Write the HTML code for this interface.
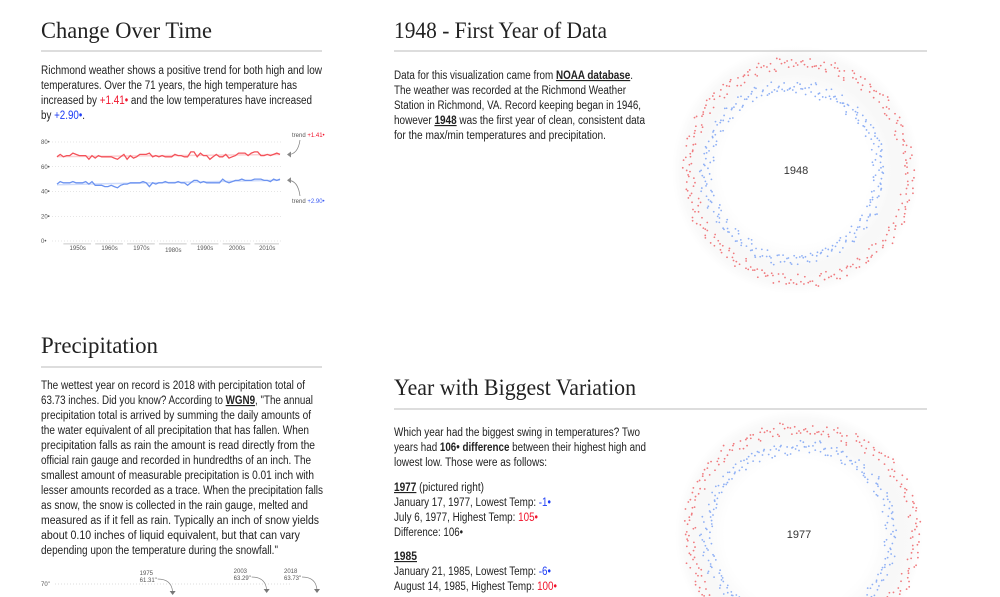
<!DOCTYPE html>
<html><head><meta charset="utf-8"><style>
html,body{margin:0;padding:0;background:#fff;overflow:hidden;width:1000px;height:597px;}
svg{display:block;font-family:"Liberation Sans",sans-serif;}
.h{font-family:"Liberation Serif",serif;font-size:23px;fill:#222;}
.p{font-size:11.5px;fill:#222;}
.b{font-weight:bold;text-decoration:underline;}
.r{fill:#f0142c;} .bl{fill:#1d3cf5;}
.ax{font-size:6px;fill:#555;}
</style></head><body>
<svg id="page" width="1000" height="597" viewBox="0 0 1000 597">
<g id="radial1948"></g>
<g id="radial1977"></g>
<!-- headings -->
<text class="h" x="41" y="38" textLength="171" lengthAdjust="spacingAndGlyphs">Change Over Time</text>
<line x1="41" y1="51" x2="322" y2="51" stroke="#bbb"/>
<text class="h" x="394" y="38" textLength="213" lengthAdjust="spacingAndGlyphs">1948 - First Year of Data</text>
<line x1="394" y1="51" x2="927" y2="51" stroke="#bbb"/>
<text class="h" x="41" y="353" textLength="117" lengthAdjust="spacingAndGlyphs">Precipitation</text>
<line x1="41" y1="367" x2="322" y2="367" stroke="#bbb"/>
<text class="h" x="394" y="395" textLength="242" lengthAdjust="spacingAndGlyphs">Year with Biggest Variation</text>
<line x1="394" y1="409" x2="927" y2="409" stroke="#bbb"/>

<g>
<text class="p" x="41" y="74" textLength="281" lengthAdjust="spacingAndGlyphs">Richmond weather shows a positive trend for both high and low</text>
<text class="p" x="41" y="89" textLength="256" lengthAdjust="spacingAndGlyphs">temperatures. Over the 71 years, the high temperature has</text>
<text class="p" x="41" y="104" textLength="271" lengthAdjust="spacingAndGlyphs">increased by <tspan class="r">+1.41•</tspan> and the low temperatures have increased</text>
<text class="p" x="41" y="119" textLength="44" lengthAdjust="spacingAndGlyphs">by <tspan class="bl">+2.90•</tspan>.</text>
</g>

<g>
<text class="p" x="394" y="79" textLength="239" lengthAdjust="spacingAndGlyphs">Data for this visualization came from <tspan class="b">NOAA database</tspan>.</text>
<text class="p" x="394" y="94" textLength="232" lengthAdjust="spacingAndGlyphs">The weather was recorded at the Richmond Weather</text>
<text class="p" x="394" y="109" textLength="247" lengthAdjust="spacingAndGlyphs">Station in Richmond, VA. Record keeping began in 1946,</text>
<text class="p" x="394" y="124" textLength="251" lengthAdjust="spacingAndGlyphs">however <tspan class="b">1948</tspan> was the first year of clean, consistent data</text>
<text class="p" x="394" y="139" textLength="212" lengthAdjust="spacingAndGlyphs">for the max/min temperatures and precipitation.</text>
</g>

<g>
<text class="p" x="41" y="389" textLength="264" lengthAdjust="spacingAndGlyphs">The wettest year on record is 2018 with percipitation total of</text>
<text class="p" x="41" y="404" textLength="272" lengthAdjust="spacingAndGlyphs">63.73 inches. Did you know? According to <tspan class="b">WGN9</tspan>, "The annual</text>
<text class="p" x="41" y="419" textLength="270" lengthAdjust="spacingAndGlyphs">precipitation total is arrived by summing the daily amounts of</text>
<text class="p" x="41" y="434" textLength="268" lengthAdjust="spacingAndGlyphs">the water equivalent of all precipitation that has fallen. When</text>
<text class="p" x="41" y="449" textLength="274" lengthAdjust="spacingAndGlyphs">precipitation falls as rain the amount is read directly from the</text>
<text class="p" x="41" y="464" textLength="270" lengthAdjust="spacingAndGlyphs">official rain gauge and recorded in hundredths of an inch. The</text>
<text class="p" x="41" y="479" textLength="273" lengthAdjust="spacingAndGlyphs">smallest amount of measurable precipitation is 0.01 inch with</text>
<text class="p" x="41" y="494" textLength="282" lengthAdjust="spacingAndGlyphs">lesser amounts recorded as a trace. When the precipitation falls</text>
<text class="p" x="41" y="509" textLength="267" lengthAdjust="spacingAndGlyphs">as snow, the snow is collected in the rain gauge, melted and</text>
<text class="p" x="41" y="524" textLength="278" lengthAdjust="spacingAndGlyphs">measured as if it fell as rain. Typically an inch of snow yields</text>
<text class="p" x="41" y="539" textLength="259" lengthAdjust="spacingAndGlyphs">about 0.10 inches of liquid equivalent, but that can vary</text>
<text class="p" x="41" y="554" textLength="237" lengthAdjust="spacingAndGlyphs">depending upon the temperature during the snowfall."</text>
</g>

<g>
<text class="p" x="394" y="436" textLength="246" lengthAdjust="spacingAndGlyphs">Which year had the biggest swing in temperatures? Two</text>
<text class="p" x="394" y="451" textLength="252" lengthAdjust="spacingAndGlyphs">years had <tspan font-weight="bold">106• difference</tspan> between their highest high and</text>
<text class="p" x="394" y="466" textLength="153" lengthAdjust="spacingAndGlyphs">lowest low. Those were as follows:</text>
<text class="p" x="394" y="491" textLength="90" lengthAdjust="spacingAndGlyphs"><tspan class="b">1977</tspan> (pictured right)</text>
<text class="p" x="394" y="506" textLength="157" lengthAdjust="spacingAndGlyphs">January 17, 1977, Lowest Temp: <tspan class="bl">-1•</tspan></text>
<text class="p" x="394" y="521" textLength="144" lengthAdjust="spacingAndGlyphs">July 6, 1977, Highest Temp: <tspan class="r">105•</tspan></text>
<text class="p" x="394" y="536" textLength="69" lengthAdjust="spacingAndGlyphs">Difference: 106•</text>
<text class="p b" x="394" y="560" textLength="23" lengthAdjust="spacingAndGlyphs">1985</text>
<text class="p" x="394" y="575" textLength="157" lengthAdjust="spacingAndGlyphs">January 21, 1985, Lowest Temp: <tspan class="bl">-6•</tspan></text>
<text class="p" x="394" y="590" textLength="163" lengthAdjust="spacingAndGlyphs">August 14, 1985, Highest Temp: <tspan class="r">100•</tspan></text>
</g>

<g id="lineChart"></g>
<g id="precipChart"></g>
</svg>
<script>
const NS="http://www.w3.org/2000/svg";
const firstYear=1948;
const yTicks=[0,20,40,60,80];
const decades=["1950s","1960s","1970s","1980s","1990s","2000s","2010s"];
const highs=[68,70,68,69,69,71,70,69,69,69,66,69,67,69,68,68,68,68,67,66,68,70,66,69,67,68,70,70,70,71,68,69,68,69,68,68,68,70,69,69,68,68,72,72,68,71,69,69,66,68,70,68,68,70,67,68,69,71,71,71,69,71,72,72,69,69,70,69,70,71,70];
const lows=[46,48,47,47,47,48,47,47,47,48,46,48,45,45,45,44,44,45,44,43,45,46,46,47,47,47,47,48,47,44,47,46,47,47,48,47,47,47,48,47,47,45,47,49,49,47,48,47,47,47,47,47,50,48,47,48,49,49,50,49,49,49,50,50,50,49,49,48,50,49,50];
const trendLabels=["+1.41•","+2.90•"];
const hi1948=[87,89,86,88,90,87,89,91,88,90,92,89,91,93,90,92,94,91,95,93,96,92,94,95,93,96,94,92,95,93,91,94,92,90,93,91,89,92,90,88,91,89,87,90,88,86,89,88,87,90,88,86,89,87,88,90,87,89,88,86,89,87,88,90,87,89,86,88,87,89,86,88,87];
const lo1948=[62,60,64,58,63,61,65,62,60,64,63,61,65,62,66,63,64,62,65,63,66,64,62,65,67,64,66,63,67,65,68,66,69,67,70,68,71,69,70,72,69,71,70,68,71,69,72,70,71,69,71,70,72,69,71,70,68,71,69,70,68,70,67,69,66,68,65,67,64,66,63,65,62];
const hi1977=[83,86,84,87,89,86,90,92,89,93,95,92,96,94,97,99,96,98,97,95,98,96,94,97,95,93,96,94,92,95,93,91,94,92,90,93,91,89,92,90,93,91,89,92,90,88,91,89,92,90,88,91,89,90,92,89,91,93,90,92,89,91,90,88,91,89,87,89,86,88,85,87,84];
const lo1977=[68,66,70,67,69,71,68,70,72,69,71,73,70,72,74,71,73,72,74,71,73,75,72,74,71,73,72,74,71,73,70,72,71,73,70,72,74,71,73,70,72,74,71,73,70,72,71,73,70,72,74,71,73,72,74,71,73,70,72,71,73,70,72,69,71,68,70,67,69,66,68,65,67];
const precipYears=["1975","2003","2018"];
const precipTotals=[61.31,63.29,63.73];

function el(tag,attrs,parent){const e=document.createElementNS(NS,tag);for(const k in attrs)e.setAttribute(k,attrs[k]);parent.appendChild(e);return e;}

(function(){
  const g=document.getElementById('lineChart');
  const x0=57,x1=280,yb=241,yt=142,vmax=80;
  const xS=i=>x0+(x1-x0)*i/(highs.length-1);
  const yS=v=>yb-(yb-yt)*v/vmax;
  yTicks.forEach(t=>{
    const l=el('line',{x1:52,x2:282,y1:yS(t),y2:yS(t),stroke:'#ccc','stroke-dasharray':'1,2','stroke-width':0.6},g);
    
    
    const tx=el('text',{x:41,y:yS(t)+2,class:'ax'},g);tx.textContent=t+'•';
    
    
  });
  decades.forEach((d,i)=>{
    const y0=1950+i*10;
    const a=xS(y0-firstYear),b=xS(Math.min(y0+9,2018)-firstYear)+2;
    const r=el('rect',{x:a,y:243,width:b-a-3,height:1.6,fill:'#ddd'},g);
    
    
    const tx=el('text',{x:(a+b)/2-1,y:i==3?252:250,class:'ax','text-anchor':'middle'},g);tx.textContent=d;
    
    
  });
  [[highs,'#f4525a','#fbd0d2'],[lows,'#6c93f0','#cfdcfb']].forEach(([arr,c,fc],k)=>{
    const n=arr.length;let sx=0,sy=0,sxy=0,sxx=0;
    arr.forEach((v,i)=>{sx+=i;sy+=v;sxy+=i*v;sxx+=i*i;});
    const m=(n*sxy-sx*sy)/(n*sxx-sx*sx),b=(sy-m*sx)/n;
    const tl=el('line',{x1:xS(0),y1:yS(b),x2:xS(n-1),y2:yS(b+m*(n-1)),stroke:fc,'stroke-width':1.5},g);
    
    
    const p=el('path',{d:arr.map((v,i)=>(i?'L':'M')+xS(i).toFixed(1)+','+yS(v).toFixed(1)).join(''),fill:'none',stroke:c,'stroke-width':1.3},g);
    
    
    const ty=k?203:137;
    const t=el('text',{x:292,y:ty,class:'ax'},g);
    t.innerHTML='trend <tspan fill="'+(k?'#3c5cf5':'#f0142c')+'">'+trendLabels[k]+'</tspan>';
    
    
    const ey=yS(b+m*(n-1));
    const ar=el('path',{d:k?`M300,196 Q298,${ey} 288,${ey}`:`M300,140 Q298,${ey} 288,${ey}`,fill:'none',stroke:'#888','stroke-width':0.8},g);
    
    
    const ah=el('path',{d:`M287,${ey} l4,-3 v6 z`,fill:'#888'},g);
    
    
  });
})();

function radial(id,cx,cy,hi,lo,label){
  const g=document.getElementById(id);
  const rS=v=>20+v;
  const defs=el('defs',{},g);
  const gr=el('radialGradient',{id:id+'g',cx:.5,cy:.5,r:.5},defs);
  el('stop',{offset:'0.6','stop-color':'#fff'},gr);
  el('stop',{offset:'0.78','stop-color':'#f8f8f8'},gr);
  el('stop',{offset:'0.92','stop-color':'#f9f9f9'},gr);
  el('stop',{offset:'1','stop-color':'#fff'},gr);
  const bg=el('circle',{cx:cx,cy:cy,r:124,fill:`url(#${id}g)`},g);
  
  
  const jit=[0,-3.5,2.5,-1.5,4,-2.5,1,3,-4,1.8,-0.5,2.2,-3];
  [[hi,'#f07a7e'],[lo,'#8fb0f5']].forEach(([arr,c],k)=>{
    arr.forEach((v,i)=>{
      const a=2*Math.PI*i/arr.length;
      for(let j=0;j<4;j++){
        const aj=a+2*Math.PI*(j+0.3*jit[(i+j)%13]/4)/(arr.length*4);
        const r=rS(v)+jit[(i*5+j*3+k)%13]*1.3;
        const d=el('circle',{cx:cx+r*Math.sin(aj),cy:cy-r*Math.cos(aj),r:0.9,fill:c},g);
        
        
      }
    });
  });
  const t=el('text',{x:cx,y:cy+4,'text-anchor':'middle','font-size':'11px',fill:'#333'},g);t.textContent=label;
  
  
}
radial('radial1948',796,170,hi1948,lo1948,'1948');
radial('radial1977',799,534,hi1977,lo1977,'1977');

(function(){
  const g=document.getElementById('precipChart');
  const xS=y=>55+(y-1948)*(290-55)/70;
  const l=el('line',{x1:55,x2:290,y1:584,y2:584,stroke:'#bbb','stroke-dasharray':'1,2','stroke-width':0.6},g);
  
  
  const t=el('text',{x:41,y:586,class:'ax'},g);t.textContent='70"';
  
  
  precipYears.forEach((yr,i)=>{
    const x=xS(+yr);
    const ly=i?573:575;
    const a=el('text',{x:x-6,y:ly,class:'ax'},g);a.textContent=yr;
    
    
    const b=el('text',{x:x-6,y:ly+7,class:'ax'},g);b.textContent=precipTotals[i].toFixed(2)+'"';
    
    
    const p=el('path',{d:`M${x+12},${ly+4} Q${x+26},${ly+4} ${x+27},${ly+17}`,fill:'none',stroke:'#888','stroke-width':0.7},g);
    
    
    const h=el('path',{d:`M${x+24},${ly+16} h6 l-3,4 z`,fill:'#777'},g);
    
    
  });
})();
</script>
</body></html>
